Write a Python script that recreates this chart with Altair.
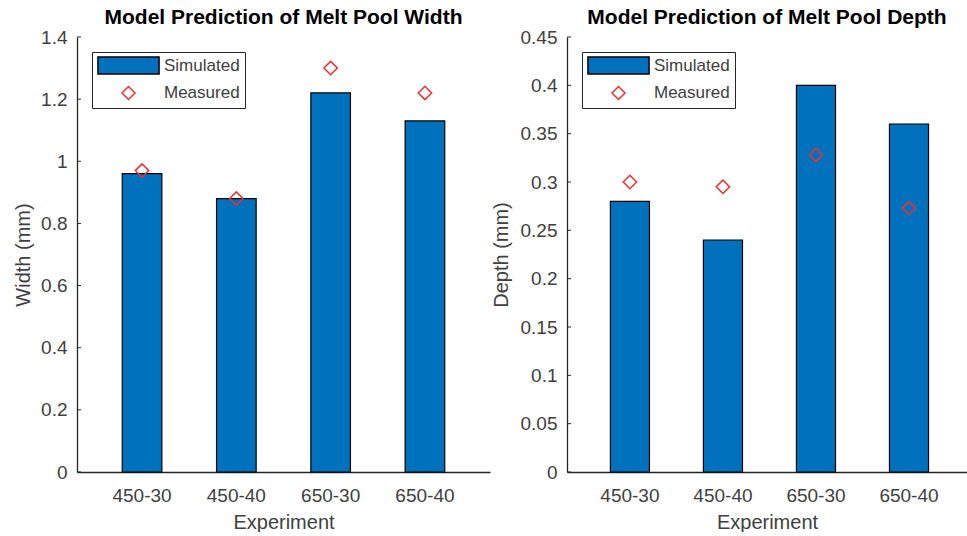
import altair as alt
import pandas as pd

experiments = ["450-30", "450-40", "650-30", "650-40"]
width_simulated = [0.96, 0.88, 1.22, 1.13]
width_measured = [0.97, 0.88, 1.30, 1.22]
depth_simulated = [0.28, 0.24, 0.40, 0.36]
depth_measured = [0.300, 0.295, 0.328, 0.273]
width_ticks = [0, 0.2, 0.4, 0.6, 0.8, 1.0, 1.2, 1.4]
depth_ticks = [0, 0.05, 0.1, 0.15, 0.2, 0.25, 0.3, 0.35, 0.4, 0.45]
series_names = ["Simulated", "Measured"]

FONT = "Liberation Sans"
AX = "#262626"
LBL = "#404040"
BLUE = "#0072BD"
RED = "#EE3030"
RECT_PATH = "M-4.7,-1.3L4.7,-1.3L4.7,1.3L-4.7,1.3Z"


def panel(sim, meas, ticks, ymax, title, ytitle, w, title_x, pad_outer, align):
    bars_df = pd.DataFrame({"Experiment": experiments, "value": sim})
    pts_df = pd.DataFrame({"Experiment": experiments, "value": meas,
                           "Series": ["Measured"] * len(meas)})
    tick_df = pd.DataFrame({"value": ticks})

    xenc = alt.X("Experiment:N", sort=experiments,
                 scale=alt.Scale(paddingInner=0.58, paddingOuter=pad_outer, align=align),
                 axis=alt.Axis(title="Experiment", labelAngle=0, ticks=False,
                               labelPadding=14, titlePadding=7,
                               labelFontSize=19, titleFontSize=20))
    yscale = alt.Scale(domain=[0, ymax], nice=False, zero=True)

    bars = alt.Chart(bars_df).mark_bar(
        color=BLUE, stroke="black", strokeWidth=1.2
    ).encode(
        x=xenc,
        y=alt.Y("value:Q", scale=yscale,
                axis=alt.Axis(title=ytitle, values=ticks, format="~g", ticks=False,
                              labelPadding=10, titleX=title_x,
                              labelFontSize=19, titleFontSize=20)),
    )

    leg = alt.Legend(title=None, orient="none", legendX=15, legendY=15,
                     strokeColor=AX, fillColor="white", padding=5,
                     rowPadding=6.5, symbolSize=169, symbolStrokeWidth=1.5,
                     symbolOffset=23, labelOffset=27, labelFontSize=17,
                     labelColor=LBL, labelFont=FONT,
                     labelExpr="datum.label + '\u00a0\u00a0'")
    pts = alt.Chart(pts_df).mark_point(size=180, strokeWidth=1.5, opacity=1).encode(
        x=alt.X("Experiment:N", sort=experiments),
        y=alt.Y("value:Q", scale=yscale),
        shape=alt.Shape("Series:N", scale=alt.Scale(domain=series_names, range=[RECT_PATH, "diamond"]), legend=leg),
        fill=alt.Fill("Series:N", scale=alt.Scale(domain=series_names, range=[BLUE, "transparent"]), legend=leg),
        stroke=alt.Stroke("Series:N", scale=alt.Scale(domain=series_names, range=["black", RED]), legend=leg),
    )

    tk = alt.Chart(tick_df).mark_rule(color=AX, strokeWidth=1).encode(
        y=alt.Y("value:Q", scale=yscale),
        x=alt.value(0), x2=alt.value(4),
    )

    return alt.layer(bars, tk, pts).properties(
        width=w, height=435,
        title=alt.TitleParams(title, fontSize=21, fontWeight="bold", font=FONT,
                              color="black", offset=0, anchor="middle"),
    )


left = panel(width_simulated, width_measured, width_ticks, 1.4,
             "Model Prediction of Melt Pool Width", "Width (mm)", 413, -44, 0.48, 0.5)
right = panel(depth_simulated, depth_measured, depth_ticks, 0.45,
              "Model Prediction of Melt Pool Depth", "Depth (mm)", 400, -56, 0.44, 0.53)

chart = alt.hconcat(left, right, spacing=1).resolve_scale(
    shape="independent", fill="independent", stroke="independent"
).properties(
    padding={"left": 13, "top": 7, "right": 0, "bottom": 0},
    background="white",
).configure_view(stroke=None).configure_axis(
    domainColor=AX, domainWidth=1.3, labelColor=LBL, titleColor=LBL,
    labelFont=FONT, titleFont=FONT, grid=False, titleFontWeight="normal",
)

chart.save("out.html", embed_options={"renderer": "svg", "actions": False})
